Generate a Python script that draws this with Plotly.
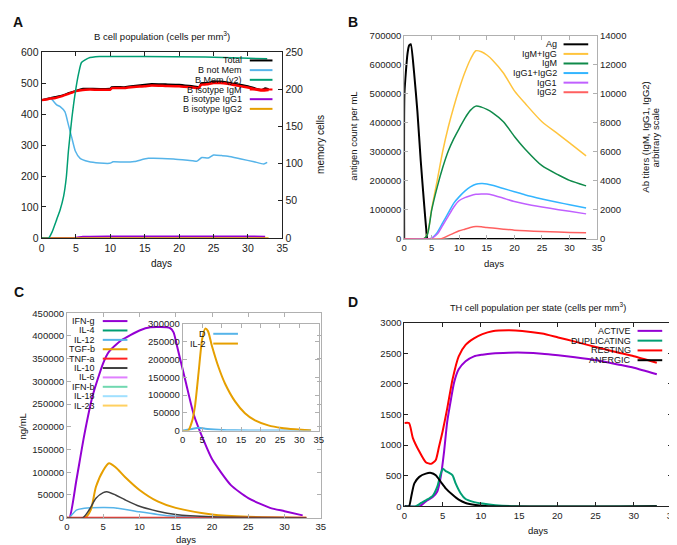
import plotly.graph_objects as go

W, H = 677, 545
def px(x): return x / W
def py(y): return 1 - y / H

FONT = "Liberation Sans"

# ---------------- Panel A: B cell population ----------------
a_total_x = [0, 1, 2, 3, 4, 5, 6, 7, 10, 10.2, 12, 13, 15, 16, 18, 20, 22, 23, 23.2, 24, 25, 26, 27, 28, 30, 32, 32.5, 33]
a_total_y = [445, 450, 455, 460, 468, 475, 482, 482, 482, 487, 487, 490, 495, 497, 496, 495, 490, 488, 500, 500, 505, 505, 502, 498, 490, 478, 483, 480]
a_notmem_x = [0, 1, 1.3, 2.2, 2.7, 3.4, 3.9, 4.4, 4.9, 5.6, 6.8, 8.4, 9.9, 10.4, 12, 13.5, 15.5, 19.2, 22, 22.6, 23.3, 24.2, 25, 26.2, 27.1, 29, 30.9, 32.3, 32.8]
a_notmem_y = [445, 449, 451, 430, 424, 407, 365, 323, 281, 257, 247, 242, 241, 246, 245, 247, 257, 255, 249, 248, 260, 258, 268, 266, 264, 255, 246, 239, 244]
a_mem_x = [0, 1.05, 1.5, 2.2, 2.7, 3.2, 3.6, 3.9, 4.4, 4.9, 5.4, 5.8, 6.8, 8.4, 14.7, 23.8, 29, 32.8]
a_mem_y = [0, 0, 7.5, 25, 38, 56, 82, 117, 161, 196, 222, 236, 242, 244, 244, 243.4, 242, 241]
a_igm_x = [0, 1, 2, 3, 4, 5, 6, 7, 10, 10.2, 12, 13, 15, 16, 18, 20, 22, 22.8, 23.2, 24, 25, 26, 27, 28, 30, 32, 33]
a_igm_y = [445, 449, 452, 458, 466, 474, 478, 479, 479, 484, 484, 487, 490, 492, 491, 490, 486, 484, 495, 496, 500, 500, 498, 494, 486, 476, 478]
a_igg1_x = [0, 4.8, 6, 10, 20, 30, 32.5]
a_igg1_y = [0, 0, 4, 5, 5, 5, 4]
a_igg2_x = [0, 33]
a_igg2_y = [0, 0]
a_names = ["Total", "B not Mem", "B Mem (y2)", "B isotype IgM", "B isotype IgG1", "B isotype IgG2"]
a_colors = ["#000000", "#56b4e9", "#009e73", "#ff0000", "#9400d3", "#e69f00"]

# ---------------- Panel B: antigen & antibodies ----------------
b_ag_x = [0, 0.05, 0.6, 0.9, 1.2, 1.8, 2.4, 3.0, 3.6, 4.0, 4.25, 10, 20, 33]
b_ag_y = [0, 504000, 638000, 666000, 670000, 571000, 437000, 269000, 123000, 33600, 0, 0, 0, 0]
b_igmg_x = [0, 3.5, 4.2, 5, 6, 7, 8, 9, 10, 11, 12, 13, 14, 15, 16, 18, 20, 22, 25, 28, 30, 33]
b_igmg_y = [0, 0, 336, 2100, 4050, 6050, 7700, 9100, 10350, 11450, 12350, 12950, 12880, 12660, 12320, 11420, 10190, 9300, 8064, 7200, 6608, 5712]
b_igm_x = [0, 3.5, 4.2, 5, 6, 7, 8, 9, 10, 11, 12, 13, 14, 15, 16, 18, 20, 22, 25, 28, 30, 33]
b_igm_y = [0, 0, 300, 2016, 3584, 4928, 6048, 6900, 7616, 8300, 8848, 9140, 9072, 8915, 8690, 8064, 7056, 6160, 5040, 4400, 4032, 3651]
b_igg12_x = [0, 4.5, 5, 6, 7, 8, 9, 10, 11, 12, 13, 14, 15, 16, 18, 20, 22, 25, 28, 30, 33]
b_igg12_y = [0, 0, 50, 448, 1120, 1792, 2464, 2912, 3293, 3584, 3763, 3808, 3786, 3696, 3472, 3248, 3024, 2755, 2509, 2352, 2128]
b_igg1_x = [0, 4.5, 5, 6, 7, 8, 9, 10, 11, 12, 13, 14, 15, 16, 18, 20, 22, 25, 28, 30, 33]
b_igg1_y = [0, 0, 50, 336, 941, 1568, 2195, 2643, 2845, 2979, 3069, 3091, 3091, 3024, 2800, 2576, 2397, 2195, 2016, 1904, 1725]
b_igg2_x = [0, 6.5, 7, 8, 9, 10, 11, 12, 13, 14, 15, 18, 20, 22, 25, 28, 30, 33]
b_igg2_y = [0, 0, 45, 224, 403, 560, 672, 784, 851, 840, 784, 672, 605, 560, 515, 470, 448, 425]
b_names = ["Ag", "IgM+IgG", "IgM", "IgG1+IgG2", "IgG1", "IgG2"]
b_colors = ["#000000", "#ffc43d", "#0f8a4a", "#33b5ff", "#c060ff", "#ff6060"]

# ---------------- Panel C: cytokines ----------------
c_ifng_x = [0, 0.35, 1.3, 2.4, 3.55, 5, 5.8, 7.5, 10, 11.5, 14.2, 14.7, 15.1, 16.4, 17.5, 18.9, 20, 22.6, 25, 28, 30, 32.5]
c_ifng_y = [0, 0, 82400, 182700, 268700, 340400, 365500, 390600, 412000, 419000, 417500, 408000, 383000, 297000, 226000, 168000, 129000, 71700, 43000, 21500, 14300, 5000]
c_tgfb_x = [0, 2.5, 3.3, 4, 5, 5.8, 6.7, 8, 10, 12.5, 15, 20, 25, 33]
c_tgfb_y = [0, 0, 18000, 68000, 104000, 119700, 111000, 89600, 61000, 35800, 21500, 7200, 2000, 0]
c_il10_x = [0, 2.2, 3.1, 4, 5, 5.5, 6.7, 8, 10, 12.5, 15, 20, 25, 33]
c_il10_y = [0, 0, 18000, 43000, 55200, 57300, 50000, 39400, 25000, 14300, 7200, 2000, 500, 0]
c_il12_x = [0, 0.3, 1.3, 2.4, 5, 6.7, 10, 12.5, 15, 17.3, 20, 33]
c_il12_y = [0, 0, 16500, 20800, 22200, 21500, 12900, 7200, 2900, 700, 0, 0]
c_zero_x = [0, 33]
c_zero_y = [0, 0]
c_names = ["IFN-g", "IL-4", "IL-12", "TGF-b", "TNF-a", "IL-10", "IL-6", "IFN-b", "IL-18", "IL-23"]
c_colors = ["#9400d3", "#009e73", "#56b4e9", "#e69f00", "#ff2020", "#404040", "#e080ff", "#70d8b0", "#a0e0ff", "#ffd060"]
ci_d_x = [0, 2.4, 4.1, 5.8, 9.2, 13.5, 20, 33]
ci_d_y = [0, 4600, 8300, 5500, 2800, 900, 300, 0]
ci_il2_x = [0, 1.4, 2.4, 3.2, 4.1, 5, 5.8, 6.5, 7.5, 9.2, 10.9, 13.5, 16, 18.6, 22, 25.5, 28.9, 32.3, 33]
ci_il2_y = [0, 0, 26000, 72000, 165000, 257000, 287000, 280000, 239000, 179000, 132000, 81500, 49000, 28700, 14800, 7400, 3700, 900, 500]
ci_names = ["D", "IL-2"]
ci_colors = ["#56b4e9", "#e69f00"]

# ---------------- Panel D: TH cells ----------------
d_rest_x = [0, 0.6, 1.1, 1.9, 2.8, 3.5, 4.1, 4.5, 5, 5.6, 6.3, 7.1, 8, 9.1, 10.2, 11.5, 13.6, 15.4, 18, 20.1, 22.3, 25.3, 27.9, 30, 33]
d_rest_y = [1360, 1360, 1119, 906, 719, 693, 757, 959, 1225, 1599, 2078, 2451, 2638, 2744, 2813, 2861, 2877, 2867, 2824, 2760, 2691, 2595, 2515, 2451, 2345]
d_act_x = [0, 2, 2.8, 3.7, 4.3, 4.75, 5.2, 5.6, 6.1, 6.5, 7.1, 8, 9.1, 10.2, 11.5, 13.6, 15.8, 18, 20.1, 22.3, 25.3, 27.9, 30, 33]
d_act_y = [0, 0, 80, 150, 240, 480, 906, 1385, 1758, 2025, 2238, 2371, 2451, 2478, 2499, 2510, 2510, 2494, 2467, 2435, 2382, 2318, 2265, 2158]
d_dup_x = [0, 1.5, 2.2, 2.8, 3.7, 4.3, 4.75, 5.05, 5.4, 5.8, 6.3, 6.7, 7.35, 8, 8.9, 10.2, 11.9, 14.5, 33]
d_dup_y = [0, 0, 53, 96, 170, 320, 533, 613, 575, 549, 506, 373, 213, 117, 75, 43, 16, 0, 0]
d_anerg_x = [0, 0.6, 0.9, 1.3, 1.95, 2.8, 3.5, 4.1, 4.75, 5.4, 6.3, 7.1, 8, 9.3, 11, 33]
d_anerg_y = [0, 0, 160, 373, 480, 533, 544, 506, 400, 293, 187, 107, 53, 21, 0, 0]
d_names = ["ACTIVE", "DUPLICATING", "RESTING", "ANERGIC"]
d_colors = ["#9400d3", "#009e73", "#ff0000", "#000000"]

fig = go.Figure()

def add(x, y, color, xa, ya, width=1.5, smooth=0.7):
    fig.add_trace(go.Scatter(x=x, y=y, mode="lines",
                             line=dict(color=color, width=width, shape="spline", smoothing=smooth),
                             xaxis=xa, yaxis=ya, showlegend=False, hoverinfo="skip"))

# A
add(a_total_x, a_total_y, a_colors[0], "x", "y", 2, 0.4)
add(a_notmem_x, a_notmem_y, a_colors[1], "x", "y", 1.5, 0.5)
add(a_mem_x, a_mem_y, a_colors[2], "x", "y2", 1.5, 0.5)
add(a_igm_x, a_igm_y, a_colors[3], "x", "y", 2.5, 0.4)
add(a_igg1_x, a_igg1_y, a_colors[4], "x", "y", 2, 0.4)
add(a_igg2_x, a_igg2_y, a_colors[5], "x", "y")
# B
add(b_ag_x, b_ag_y, b_colors[0], "x2", "y3", 2, 0.5)
add(b_igmg_x, b_igmg_y, b_colors[1], "x2", "y4")
add(b_igm_x, b_igm_y, b_colors[2], "x2", "y4")
add(b_igg12_x, b_igg12_y, b_colors[3], "x2", "y4")
add(b_igg1_x, b_igg1_y, b_colors[4], "x2", "y4")
add(b_igg2_x, b_igg2_y, b_colors[5], "x2", "y4")
# C main
add(c_ifng_x, c_ifng_y, c_colors[0], "x3", "y5", 2, 0.6)
add(c_zero_x, c_zero_y, c_colors[1], "x3", "y5")
add(c_il12_x, c_il12_y, c_colors[2], "x3", "y5")
add(c_tgfb_x, c_tgfb_y, c_colors[3], "x3", "y5", 2)
add(c_zero_x, c_zero_y, c_colors[4], "x3", "y5", 2)
add(c_il10_x, c_il10_y, c_colors[5], "x3", "y5")
# C inset
add(ci_d_x, ci_d_y, ci_colors[0], "x4", "y6", 2)
add(ci_il2_x, ci_il2_y, ci_colors[1], "x4", "y6", 2, 0.6)
# D
add(d_act_x, d_act_y, d_colors[0], "x5", "y7", 2, 0.6)
add(d_dup_x, d_dup_y, d_colors[1], "x5", "y7", 2, 0.6)
add(d_rest_x, d_rest_y, d_colors[2], "x5", "y7", 2, 0.6)
add(d_anerg_x, d_anerg_y, d_colors[3], "x5", "y7", 2, 0.6)

def ax(dom, rng, dtick, line, anchor, mirror=False, side=None, overlaying=None, fs=9.5):
    d = dict(domain=dom, range=rng, dtick=dtick, tick0=0, showgrid=False, zeroline=False,
             showline=True, linecolor=line, linewidth=1, ticks="inside", ticklen=4,
             tickcolor=line, tickfont=dict(family=FONT, size=fs, color="#222"),
             mirror=mirror, anchor=anchor, tickformat="d", fixedrange=True)
    if side: d["side"] = side
    if overlaying:
        d["overlaying"] = overlaying
        d.pop("domain")
    return d

DARK = "#222222"
GRAY = "#b0b0b0"
fig.update_layout(
    width=W, height=H, autosize=False,
    margin=dict(l=0, r=0, t=0, b=0),
    paper_bgcolor="white", plot_bgcolor="rgba(0,0,0,0)",
    xaxis=ax([px(31), px(275)], [0, 35], 5, DARK, "y", mirror="ticks", fs=10.5),
    yaxis=ax([py(229), py(39)], [0, 600], 100, DARK, "x", fs=10.5),
    yaxis2=ax(None, [0, 250], 50, DARK, "x", side="right", overlaying="y", fs=10.5),
    xaxis2=ax([px(398.5), px(594)], [0, 35], 5, GRAY, "y3", mirror="ticks"),
    yaxis3=ax([py(230), py(22)], [0, 700000], 100000, GRAY, "x2"),
    yaxis4=ax(None, [0, 14000], 2000, GRAY, "x2", side="right", overlaying="y3"),
    xaxis3=ax([px(56.7), px(314)], [0, 35], 5, GRAY, "y5", mirror="ticks"),
    yaxis5=ax([py(515), py(306)], [0, 450000], 50000, GRAY, "x3", mirror="ticks"),
    xaxis4=ax([px(174), px(312)], [0, 35], 5, GRAY, "y6", mirror="ticks"),
    yaxis6=ax([py(426), py(317)], [0, 300000], 50000, GRAY, "x4", mirror="ticks"),
    xaxis5=ax([px(398.7), px(670)], [0, 35], 5, DARK, "y7", mirror="ticks"),
    yaxis7=ax([py(503.3), py(315.7)], [0, 3000], 500, DARK, "x5", mirror="ticks"),
)

def text(s, x, y, size=9.5, angle=0, bold=False, anchor="center"):
    fig.add_annotation(text=("<b>%s</b>" % s) if bold else s, x=px(x), y=py(y),
                       xref="paper", yref="paper", showarrow=False, textangle=angle,
                       xanchor=anchor, yanchor="middle",
                       font=dict(family=FONT, size=size, color="#111"))

def legend(names, colors, text_right, lx0, lx1, y0, dy, size=9, width=2):
    for i, (n, c) in enumerate(zip(names, colors)):
        y = y0 + i * dy
        text(n, text_right, y, size=size, anchor="right")
        fig.add_shape(type="line", xref="paper", yref="paper", x0=px(lx0), x1=px(lx1),
                      y0=py(y), y1=py(y), line=dict(color=c, width=width))

# panel letters
text("A", 7, 8, size=14, bold=True)
text("B", 347, 8, size=14, bold=True)
text("C", 8, 284, size=14, bold=True)
text("D", 347, 294, size=14, bold=True)

# titles and axis titles
text("B cell population (cells per mm<sup>3</sup>)", 153, 23, size=9.5)
text("TH cell population per state (cells per mm<sup>3</sup>)", 534, 300, size=9.2)
text("days", 153, 255, size=10)
text("days", 490, 255)
text("days", 177, 537)
text("days", 534, 528)
text("memory cells", 313, 133, angle=-90, size=10)
text("antigen count per mL", 347, 125, angle=-90)
text("Ab titers (IgM, IgG1, IgG2)", 643, 126, angle=-90)
text("arbitrary scale", 653, 126, angle=-90)
text("ng/mL", 12, 422, angle=-90)

# legends
legend(a_names, a_colors, 236, 242, 265, 47.5, 9.9, size=9)
legend(b_names, b_colors, 555, 560, 585, 31, 9.8)
legend(c_names, c_colors, 87, 93, 118, 314, 9.6)
legend(ci_names, ci_colors, 200, 205, 230, 327, 10)
legend(d_names, d_colors, 630, 635, 660, 324, 10)

fig.write_html("out.html")
